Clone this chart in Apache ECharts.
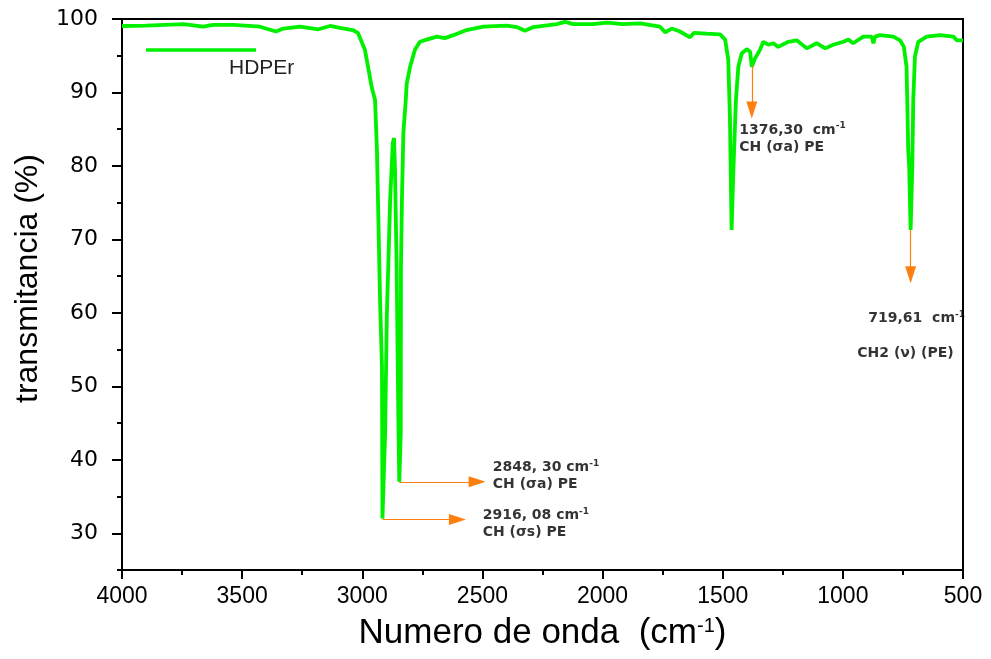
<!DOCTYPE html>
<html>
<head>
<meta charset="utf-8">
<script src="https://cdn.jsdelivr.net/npm/echarts@6/dist/echarts.min.js"></script>
<style>
  html, body { margin: 0; padding: 0; background: #fff; }
  #chart { width: 991px; height: 659px; }
</style>
</head>
<body>
<div id="chart"></div>
<script>
// FTIR spectrum (wavenumber descending)
const waveNumbers = [
  4000, 3900, 3744, 3662, 3620, 3537, 3426, 3359, 3329, 3259, 3183, 3134, 3093, 3040, 3018,
  2989, 2960, 2947, 2939, 2926, 2918, 2916, 2905, 2898, 2884, 2873, 2868, 2864, 2857, 2850,
  2846, 2840, 2839, 2835, 2829, 2819, 2815, 2801, 2781, 2760, 2732, 2690, 2656, 2621, 2566,
  2496, 2399, 2357, 2323, 2288, 2191, 2156, 2122, 2040, 1983, 1915, 1844, 1761, 1740, 1712,
  1678, 1636, 1620, 1567, 1511, 1490, 1477, 1470, 1467, 1463, 1456, 1445, 1435, 1421, 1400,
  1386, 1379, 1366, 1345, 1331, 1310, 1289, 1269, 1227, 1192, 1150, 1109, 1074, 1040, 998,
  977, 957, 915, 880, 873, 866, 845, 790, 762, 746, 735, 732, 728, 724, 718,
  711, 707, 700, 686, 651, 596, 540, 526, 500
];
const transmitancia = [
  99.05, 99.1, 99.3, 98.95, 99.2, 99.2, 98.95, 98.3, 98.7, 98.95, 98.6, 99.05, 98.8, 98.5, 98.1,
  95.8, 90.6, 89.0, 82.2, 61.7, 52.6, 32.0, 43.6, 59.4, 75.4, 83.1, 83.8, 79.8, 66.2, 45.8,
  37.0, 43.6, 66.2, 75.4, 84.5, 89.0, 91.2, 93.5, 95.8, 96.9, 97.2, 97.6, 97.4, 97.8, 98.5,
  98.95, 99.1, 98.9, 98.4, 98.9, 99.3, 99.6, 99.3, 99.3, 99.5, 99.3, 99.4, 98.95, 98.2, 98.7,
  98.3, 97.5, 98.1, 98.0, 97.9, 97.2, 94.5, 86.7, 79.9, 71.3, 79.0, 89.0, 93.5, 95.3, 95.9,
  95.55, 93.5, 94.6, 95.8, 96.9, 96.5, 96.7, 96.2, 96.9, 97.1, 96.0, 96.7, 96.0, 96.5, 96.9,
  97.2, 96.7, 97.6, 97.6, 96.7, 97.6, 97.8, 97.6, 97.1, 96.2, 93.5, 89.0, 82.2, 79.9, 71.3,
  79.9, 89.0, 94.9, 96.9, 97.6, 97.8, 97.6, 97.1, 97.1
];

const yTicks = [30, 40, 50, 60, 70, 80, 90, 100];
const yMinorTicks = [25, 35, 45, 55, 65, 75, 85, 95];

// arrows: [from, to] in data coords (to = centre of the arrow head)
const arrows = [
  [[2916, 31.87], [2604, 31.87]],
  [[2846, 37.0], [2522, 37.0]],
  [[1379, 93.7], [1379, 87.6]],
  [[718, 71.3], [718, 65.2]]
];

// annotation labels: anchor (left, middle) and text
const notePos = [[2499, 31.3], [2457, 37.83], [1431, 83.75], [894, 59.24], [940, 54.47]];
const noteText = [
  '{b|2916, 08 cm}{sup|-1}\n{b|CH (σs) PE}',
  '{b|2848, 30 cm}{sup|-1}\n{b|CH (σa) PE}',
  '{b|1376,30  cm}{sup|-1}\n{b|CH (σa) PE}',
  '{b|719,61  cm}{sup|-1}',
  '{b|CH2 (ν) (PE)}'
];

const green = '#00f000';
const orange = '#ff7f0e';

const chart = echarts.init(document.getElementById('chart'));

const option = {
  backgroundColor: '#fff',
  animation: false,
  grid: {
    left: 122, right: 28, top: 19, bottom: 89,
    show: true, borderColor: '#000', borderWidth: 2
  },
  xAxis: {
    type: 'value',
    min: 500, max: 4000, interval: 500,
    inverse: true,
    name: 'Numero de onda  (cm{sup|-1})',
    nameLocation: 'middle',
    nameGap: 46,
    nameTextStyle: {
      fontFamily: 'Liberation Sans', fontSize: 35, color: '#000',
      rich: { sup: { fontFamily: 'Liberation Sans', fontSize: 20, verticalAlign: 'top', lineHeight: 20, color: '#000' } }
    },
    axisLine: { show: true, lineStyle: { color: '#000', width: 2 } },
    axisTick: { show: true, length: 9, lineStyle: { color: '#000', width: 2 } },
    minorTick: { show: true, splitNumber: 2, length: 5, lineStyle: { color: '#000', width: 2 } },
    axisLabel: {
      fontFamily: 'Liberation Sans', fontSize: 23, color: '#000', margin: 15,
      formatter: v => String(v)
    },
    splitLine: { show: false }
  },
  yAxis: [
    {
      type: 'value',
      min: 25, max: 100,
      position: 'left',
      name: 'transmitancia (%)',
      nameLocation: 'middle',
      nameGap: 78,
      nameTextStyle: { fontFamily: 'Liberation Sans', fontSize: 32, color: '#000', padding: [0, 0, 0, 32] },
      axisLine: { show: true, lineStyle: { color: '#000', width: 2 } },
      axisTick: { show: true, length: 10, customValues: yTicks, lineStyle: { color: '#000', width: 2 } },
      axisLabel: { customValues: yTicks, fontFamily: 'DejaVu Sans', fontSize: 22, color: '#000', margin: 24 },
      splitLine: { show: false }
    },
    {
      type: 'value',
      min: 25, max: 100,
      position: 'left',
      axisLine: { show: false },
      axisTick: { show: true, length: 5, customValues: yMinorTicks, lineStyle: { color: '#000', width: 2 } },
      axisLabel: { show: false },
      splitLine: { show: false }
    }
  ],
  graphic: [
    {
      type: 'line',
      shape: { x1: 146, y1: 50, x2: 256, y2: 50 },
      style: { stroke: green, lineWidth: 3.5 }
    },
    {
      type: 'text',
      x: 229, y: 68,
      style: {
        text: 'HDPEr', fill: '#222',
        font: '21px "Liberation Sans"',
        textVerticalAlign: 'middle'
      }
    }
  ],
  series: [
    {
      name: 'HDPEr',
      type: 'line',
      yAxisIndex: 0,
      data: waveNumbers.map((w, i) => [w, transmitancia[i]]),
      showSymbol: false,
      symbol: 'none',
      lineStyle: { color: green, width: 3.8 },
      z: 3,
      markLine: {
        silent: true,
        symbol: ['none', 'triangle'],
        symbolSize: [11, 17],
        label: { show: false },
        lineStyle: { color: orange, width: 1.2, type: 'solid' },
        data: arrows.map(a => [{ coord: a[0] }, { coord: a[1] }])
      }
    },
    {
      name: 'notas',
      type: 'scatter',
      yAxisIndex: 0,
      symbolSize: 0,
      silent: true,
      z: 4,
      data: notePos.map((p, i) => ({
        value: p,
        label: { formatter: noteText[i] }
      })),
      label: {
        show: true,
        position: [0, 0],
        align: 'left',
        verticalAlign: 'middle',
        rich: {
          b: { fontFamily: 'DejaVu Sans', fontWeight: 'bold', fontSize: 14, lineHeight: 17, color: '#000' },
          sup: { fontFamily: 'DejaVu Sans', fontWeight: 'bold', fontSize: 9, lineHeight: 10, verticalAlign: 'top', color: '#000' }
        }
      }
    }
  ]
};

chart.setOption(option);
</script>
</body>
</html>
